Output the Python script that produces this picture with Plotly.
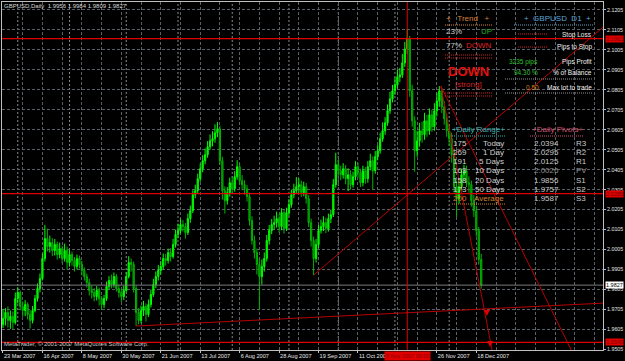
import plotly.graph_objects as go
import pandas as pd

# ---------------- data ----------------
dates = pd.bdate_range("2007-03-23", periods=195)

opens = [1.9630,1.9660,1.9690,1.9650,1.9670,1.9640,1.9760,1.9790,1.9720,1.9700,
         1.9730,1.9680,1.9650,1.9700,1.9760,1.9810,1.9860,1.9960,2.0060,2.0020,
         2.0040,2.0000,2.0030,1.9980,2.0010,1.9960,2.0000,1.9940,1.9980,1.9950,
         1.9920,1.9960,1.9930,1.9900,1.9870,1.9840,1.9800,1.9790,1.9770,1.9800,
         1.9760,1.9730,1.9760,1.9820,1.9850,1.9830,1.9870,1.9810,1.9790,1.9770,
         1.9800,1.9870,1.9940,1.9930,1.9810,1.9690,1.9650,1.9700,1.9720,1.9680,
         1.9730,1.9780,1.9830,1.9870,1.9900,1.9920,1.9960,1.9950,1.9990,1.9970,
         2.0030,2.0080,2.0100,2.0130,2.0120,2.0090,2.0160,2.0200,2.0280,2.0300,
         2.0360,2.0410,2.0450,2.0480,2.0520,2.0550,2.0560,2.0590,2.0610,2.0450,
         2.0300,2.0250,2.0290,2.0340,2.0310,2.0370,2.0420,2.0350,2.0330,2.0310,
         2.0270,2.0150,2.0050,1.9990,1.9930,1.9870,1.9920,1.9960,2.0050,2.0100,
         2.0130,2.0140,2.0160,2.0120,2.0190,2.0110,2.0190,2.0230,2.0280,2.0300,
         2.0320,2.0330,2.0290,2.0320,2.0260,2.0140,2.0050,1.9960,2.0030,2.0100,
         2.0120,2.0140,2.0110,2.0160,2.0180,2.0330,2.0430,2.0400,2.0380,2.0410,
         2.0360,2.0380,2.0330,2.0370,2.0420,2.0390,2.0340,2.0400,2.0360,2.0420,
         2.0450,2.0400,2.0470,2.0500,2.0560,2.0600,2.0640,2.0700,2.0760,2.0800,
         2.0830,2.0870,2.0880,2.0940,2.1010,2.1060,2.0800,2.0650,2.0500,2.0550,
         2.0600,2.0580,2.0650,2.0600,2.0680,2.0620,2.0700,2.0750,2.0800,2.0720,
         2.0660,2.0600,2.0560,2.0480,2.0320,2.0260,2.0320,2.0380,2.0400,2.0340,
         2.0330,2.0250,2.0200,2.0100,1.9956]

highs = [1.9705,1.9712,1.9720,1.9700,1.9695,1.9790,1.9817,1.9800,1.9745,1.9752,
         1.9740,1.9702,1.9722,1.9778,1.9835,1.9885,1.9985,2.0128,2.0110,2.0075,
         2.0062,2.0058,2.0045,2.0040,2.0025,2.0035,2.0020,2.0005,1.9995,1.9968,
         1.9980,1.9975,1.9948,1.9915,1.9885,1.9858,1.9825,1.9812,1.9822,1.9815,
         1.9772,1.9778,1.9845,1.9872,1.9880,1.9890,1.9882,1.9830,1.9808,1.9825,
         1.9892,1.9972,1.9960,1.9945,1.9825,1.9712,1.9725,1.9748,1.9735,1.9755,
         1.9805,1.9858,1.9895,1.9928,1.9948,1.9985,1.9982,2.0010,2.0012,2.0058,
         2.0105,2.0135,2.0160,2.0152,2.0138,2.0185,2.0225,2.0302,2.0330,2.0385,
         2.0435,2.0478,2.0512,2.0548,2.0582,2.0598,2.0632,2.0644,2.0625,2.0470,
         2.0322,2.0318,2.0365,2.0372,2.0398,2.0453,2.0438,2.0378,2.0352,2.0328,
         2.0290,2.0172,2.0075,2.0010,1.9960,1.9955,1.9990,2.0078,2.0128,2.0158,
         2.0175,2.0195,2.0182,2.0212,2.0205,2.0215,2.0258,2.0305,2.0335,2.0368,
         2.0362,2.0350,2.0345,2.0338,2.0278,2.0160,2.0070,2.0058,2.0128,2.0155,
         2.0172,2.0165,2.0185,2.0205,2.0358,2.0490,2.0455,2.0425,2.0438,2.0428,
         2.0412,2.0402,2.0395,2.0448,2.0440,2.0410,2.0425,2.0418,2.0448,2.0485,
         2.0472,2.0498,2.0528,2.0590,2.0642,2.0668,2.0732,2.0795,2.0830,2.0868,
         2.0905,2.0915,2.0985,2.1045,2.1110,2.1075,2.0830,2.0672,2.0600,2.0640,
         2.0645,2.0690,2.0680,2.0712,2.0705,2.0738,2.0790,2.0824,2.0815,2.0748,
         2.0685,2.0632,2.0590,2.0505,2.0350,2.0355,2.0410,2.0430,2.0425,2.0372,
         2.0350,2.0278,2.0225,2.0118,1.9984]

lows = [1.9612,1.9625,1.9615,1.9608,1.9605,1.9630,1.9735,1.9700,1.9668,1.9672,
        1.9655,1.9610,1.9635,1.9690,1.9745,1.9790,1.9850,1.9945,1.9995,1.9990,
        1.9972,1.9975,1.9955,1.9962,1.9938,1.9945,1.9905,1.9920,1.9925,1.9895,
        1.9905,1.9910,1.9875,1.9850,1.9815,1.9775,1.9760,1.9745,1.9750,1.9725,
        1.9702,1.9712,1.9748,1.9805,1.9810,1.9815,1.9795,1.9765,1.9742,1.9752,
        1.9790,1.9860,1.9895,1.9790,1.9622,1.9630,1.9635,1.9672,1.9645,1.9668,
        1.9715,1.9768,1.9812,1.9850,1.9880,1.9905,1.9925,1.9935,1.9945,1.9960,
        2.0015,2.0062,2.0085,2.0095,2.0060,2.0078,2.0140,2.0188,2.0262,2.0285,
        2.0345,2.0392,2.0432,2.0465,2.0505,2.0522,2.0540,2.0568,2.0430,2.0255,
        2.0185,2.0230,2.0270,2.0288,2.0295,2.0355,2.0330,2.0302,2.0280,2.0245,
        2.0125,2.0030,1.9960,1.9880,1.9702,1.9830,1.9895,1.9945,2.0030,2.0082,
        2.0105,2.0115,2.0090,2.0102,2.0085,2.0098,2.0172,2.0215,2.0262,2.0285,
        2.0290,2.0268,2.0272,2.0235,2.0118,2.0020,1.9877,1.9940,2.0012,2.0085,
        2.0098,2.0088,2.0095,2.0138,2.0168,2.0315,2.0372,2.0352,2.0360,2.0332,
        2.0298,2.0305,2.0315,2.0352,2.0365,2.0318,2.0322,2.0335,2.0340,2.0402,
        2.0305,2.0385,2.0452,2.0485,2.0545,2.0580,2.0625,2.0685,2.0742,2.0780,
        2.0812,2.0845,2.0865,2.0920,2.0985,2.0770,2.0620,2.0395,2.0470,2.0520,
        2.0540,2.0555,2.0570,2.0580,2.0595,2.0600,2.0672,2.0720,2.0690,2.0630,
        2.0570,2.0525,2.0440,2.0290,2.0168,2.0235,2.0300,2.0350,2.0318,2.0290,
        2.0220,2.0168,2.0070,1.9930,1.9809]

closes = [1.9660,1.9690,1.9650,1.9670,1.9640,1.9760,1.9790,1.9720,1.9700,1.9730,
          1.9680,1.9650,1.9700,1.9760,1.9810,1.9860,1.9960,2.0060,2.0020,2.0040,
          2.0000,2.0030,1.9980,2.0010,1.9960,2.0000,1.9940,1.9980,1.9950,1.9920,
          1.9960,1.9930,1.9900,1.9870,1.9840,1.9800,1.9790,1.9770,1.9800,1.9760,
          1.9730,1.9760,1.9820,1.9850,1.9830,1.9870,1.9810,1.9790,1.9770,1.9800,
          1.9870,1.9940,1.9930,1.9810,1.9690,1.9650,1.9700,1.9720,1.9680,1.9730,
          1.9780,1.9830,1.9870,1.9900,1.9920,1.9960,1.9950,1.9990,1.9970,2.0030,
          2.0080,2.0100,2.0130,2.0120,2.0090,2.0160,2.0200,2.0280,2.0300,2.0360,
          2.0410,2.0450,2.0480,2.0520,2.0550,2.0560,2.0590,2.0610,2.0450,2.0300,
          2.0250,2.0290,2.0340,2.0310,2.0370,2.0420,2.0350,2.0330,2.0310,2.0270,
          2.0150,2.0050,1.9990,1.9930,1.9870,1.9920,1.9960,2.0050,2.0100,2.0130,
          2.0140,2.0160,2.0120,2.0190,2.0110,2.0190,2.0230,2.0280,2.0300,2.0320,
          2.0330,2.0290,2.0320,2.0260,2.0140,2.0050,1.9960,2.0030,2.0100,2.0120,
          2.0140,2.0110,2.0160,2.0180,2.0330,2.0430,2.0400,2.0380,2.0410,2.0360,
          2.0380,2.0330,2.0370,2.0420,2.0390,2.0340,2.0400,2.0360,2.0420,2.0450,
          2.0400,2.0470,2.0500,2.0560,2.0600,2.0640,2.0700,2.0760,2.0800,2.0830,
          2.0870,2.0880,2.0940,2.1010,2.1060,2.0800,2.0650,2.0500,2.0550,2.0600,
          2.0580,2.0650,2.0600,2.0680,2.0620,2.0700,2.0750,2.0800,2.0720,2.0660,
          2.0600,2.0560,2.0480,2.0320,2.0260,2.0320,2.0380,2.0400,2.0340,2.0330,
          2.0250,2.0200,2.0100,1.9956,1.9827]

price_ticks = [2.1205, 2.1105, 2.1005, 2.0905, 2.0805, 2.0705, 2.0605, 2.0505, 2.0405,
               2.0305, 2.0205, 2.0105, 2.0005, 1.9905, 1.9805, 1.9705, 1.9605, 1.9505]
date_label_bars = [0, 16, 32, 48, 64, 80, 96, 112, 128, 144, 176, 192]

hlines = [2.1062, 2.0285, 1.9540]
last_price = 1.9827
crosshair_bar = 164
crosshair_label = "8 Nov 2007 00:00"

# trend lines: (bar_start, bar_end), (price_start, price_end)
trend_bars = [[54, 244], [126, 244], [177.6, 232], [177.6, 199]]
trend_prices = [[1.9622, 1.9737], [1.9877, 2.1125], [2.0824, 1.9465], [2.0824, 1.9464]]
arrow_bars = [196.3, 197.6]
arrow_prices = [1.9672, 1.9517]

trend_up_pct = 23
trend_down_pct = 77
range_values = ["175", "269", "191", "163", "158", "173", "200"]
range_labels = ["Today", "1 Day", "5 Days", "10 Days", "20 Days", "50 Days", "Average"]
pivot_values = [2.0394, 2.0295, 2.0125, 2.0026, 1.9856, 1.9757, 1.9587]
pivot_labels = ["R3", "R2", "R1", "PV", "S1", "S2", "S3"]

# ---------------- layout geometry ----------------
W, H = 625, 361
PL, PR, PT, PB = 2, 603, 2, 350
X0, X1 = -0.4, 243.4
SANS = "Liberation Sans, Arial, sans-serif"


def pxx(x):
    return (x - PL) / (PR - PL)


def pxy(y):
    return (PB - y) / (PB - PT)


idx = list(range(len(closes)))
fig = go.Figure()

fig.add_trace(go.Candlestick(
    x=idx, open=opens, high=highs, low=lows, close=closes,
    increasing=dict(line=dict(color="#00ff00", width=1), fillcolor="#00e000"),
    decreasing=dict(line=dict(color="#00b400", width=1), fillcolor="#007a00"),
    whiskerwidth=0, showlegend=False, hoverinfo="skip"))

for p in hlines:
    fig.add_trace(go.Scatter(x=[X0 - 5, X1 + 5], y=[p, p], mode="lines",
                             line=dict(color="#e00000", width=1.2),
                             showlegend=False, hoverinfo="skip"))
fig.add_trace(go.Scatter(x=[X0 - 5, X1 + 5], y=[last_price, last_price], mode="lines",
                         line=dict(color="#7a7a7a", width=1),
                         showlegend=False, hoverinfo="skip"))
for bx, by in zip(trend_bars, trend_prices):
    fig.add_trace(go.Scatter(x=bx, y=by, mode="lines",
                             line=dict(color="#b80000", width=1),
                             showlegend=False, hoverinfo="skip"))
fig.add_trace(go.Scatter(x=[crosshair_bar, crosshair_bar], y=[1.90, 2.20], mode="lines",
                         line=dict(color="#e00000", width=1),
                         showlegend=False, hoverinfo="skip"))
fig.add_trace(go.Scatter(x=arrow_bars, y=arrow_prices, mode="markers",
                         marker=dict(symbol="arrow-down", size=6, color="#e00000"),
                         showlegend=False, hoverinfo="skip"))

shapes = []
for i in range(1, len(dates)):
    if dates[i].month != dates[i - 1].month:
        shapes.append(dict(type="line", xref="x", yref="paper", x0=i, x1=i, y0=0, y1=1,
                           layer="between", line=dict(color="#8a8a8a", width=1, dash="2px,2px")))


def dotted(x0, x1, y, color):
    shapes.append(dict(type="line", xref="paper", yref="paper", x0=pxx(x0), x1=pxx(x1),
                       y0=pxy(y), y1=pxy(y), layer="above",
                       line=dict(color=color, width=1, dash="1px,1px")))


dotted(445, 493, 25, "#d9843c")
dotted(445, 493, 55, "#d02020")
dotted(445, 493, 58, "#d02020")
dotted(445, 493, 93, "#d02020")
dotted(445, 493, 96, "#d02020")
dotted(514, 593, 25, "#6a9cc0")
dotted(518, 547, 34, "#d02020")
dotted(518, 547, 47, "#d02020")
dotted(505, 593, 79, "#909090")
dotted(505, 593, 93, "#909090")
dotted(452, 506, 136, "#3cb4b4")
dotted(530, 584, 136, "#d05070")
dotted(452, 506, 204, "#d08030")

ann = []


def text(x, y, s, color, size, anchor="left", bg=None, pad=0):
    d = dict(xref="paper", yref="paper", x=pxx(x), y=pxy(y), text=s, showarrow=False,
             xanchor=anchor, yanchor="middle", font=dict(color=color, size=size, family=SANS),
             borderpad=pad)
    if bg:
        d["bgcolor"] = bg
    ann.append(d)


text(3, 6, "GBPUSD,Daily  %.4f %.4f %.4f %.4f" % (opens[-1], highs[-1], lows[-1], closes[-1]),
     "#d8d8d8", 6)
text(3, 344, "MetaTrader, © 2001-2007 MetaQuotes Software Corp.", "#c8c8c8", 6)

text(468, 19, "+&nbsp;&nbsp;&nbsp;Trend&nbsp;&nbsp;&nbsp;+", "#d9843c", 8, "center")
text(445, 32, "%d%%" % trend_up_pct, "#c8c8c8", 8)
text(493, 32, "UP", "#20b020", 8, "right")
text(445, 46, "%d%%" % trend_down_pct, "#c8c8c8", 8)
text(493, 46, "DOWN", "#e02020", 8, "right")
text(468, 71, "<b>DOWN</b>", "#e01010", 13, "center")
text(468, 84, "[strong]", "#d02020", 8, "center")

text(557, 19, "+&nbsp;&nbsp;GBPUSD&nbsp;&nbsp;D1&nbsp;&nbsp;+", "#5fa8d8", 8, "center")
text(593, 35, "Stop Loss", "#f0f0f0", 6.5, "right")
text(593, 47, "Pips to Stop", "#f0f0f0", 6.5, "right")
text(508, 62, "3235 pips", "#30c030", 6.5)
text(593, 62, "Pips Profit", "#f0f0f0", 6.5, "right")
text(513, 73, "94.30 %", "#30c030", 6.5)
text(593, 73, "% of Balance", "#f0f0f0", 6.5, "right")
text(525, 88, "0.50", "#c88020", 6.5)
text(593, 88, "Max lot to trade", "#f0f0f0", 6.5, "right")

text(478, 129, "+Daily Range+", "#3cb4b4", 8, "center")
text(557, 129, "+Daily Pivots+", "#d05070", 8, "center")
for k in range(7):
    yy = 143 + 9.33 * k
    col = "#d08030" if k == 6 else "#d0d0d0"
    text(452, yy, range_values[k], col, 8)
    text(505, yy, range_labels[k], col, 8, "right")
    pc = "#909090" if pivot_labels[k] == "PV" else "#c8c8c8"
    text(533, yy, "%.4f" % pivot_values[k], pc, 8)
    text(575, yy, pivot_labels[k], pc, 8)

yr = (1.9502, 2.1245)


def price_to_px(p):
    return PT + (yr[1] - p) / (yr[1] - yr[0]) * (PB - PT)


for p in hlines:
    text(604.5, price_to_px(p), "%.4f" % p, "#7a0000", 5.5, bg="#e00000")
text(604.5, price_to_px(last_price), "%.4f" % last_price, "#000000", 5.5, bg="#ffffff")
cross_px = PL + (crosshair_bar - X0) / (X1 - X0) * (PR - PL)
text(cross_px, 355.5, crosshair_label, "#8a0000", 5.5, "center", bg="#e00000", pad=1)

fig.update_layout(
    width=W, height=H, margin=dict(l=PL, r=W - PR, t=PT, b=H - PB, autoexpand=False),
    paper_bgcolor="#000000", plot_bgcolor="#000000",
    shapes=shapes, annotations=ann, showlegend=False,
    xaxis=dict(range=[X0, X1], rangeslider=dict(visible=False), automargin=False,
               tickvals=date_label_bars, tickangle=0,
               ticktext=["%d %s" % (dates[b].day, dates[b].strftime("%b %Y")) for b in date_label_bars],
               ticklabelposition="outside right", ticks="outside", ticklen=2, tickcolor="#c0c0c0",
               tickfont=dict(color="#e8e8e8", size=5.6, family=SANS),
               showgrid=True, gridcolor="#5a6068", griddash="3px,2px", gridwidth=1,
               minor=dict(dtick=8, tick0=0, showgrid=True, gridcolor="#5a6068", griddash="3px,2px"),
               showline=True, linecolor="#c0c0c0", mirror=True, zeroline=False, fixedrange=True),
    yaxis=dict(range=list(yr), side="right", tickvals=price_ticks, automargin=False,
               ticktext=["%.4f" % t for t in price_ticks],
               ticks="outside", ticklen=2, tickcolor="#c0c0c0",
               tickfont=dict(color="#e8e8e8", size=5.3, family=SANS),
               showgrid=True, gridcolor="#5a6068", griddash="3px,2px", gridwidth=1,
               showline=True, linecolor="#c0c0c0", mirror=True, zeroline=False, fixedrange=True),
)

fig.write_html("out.html")
